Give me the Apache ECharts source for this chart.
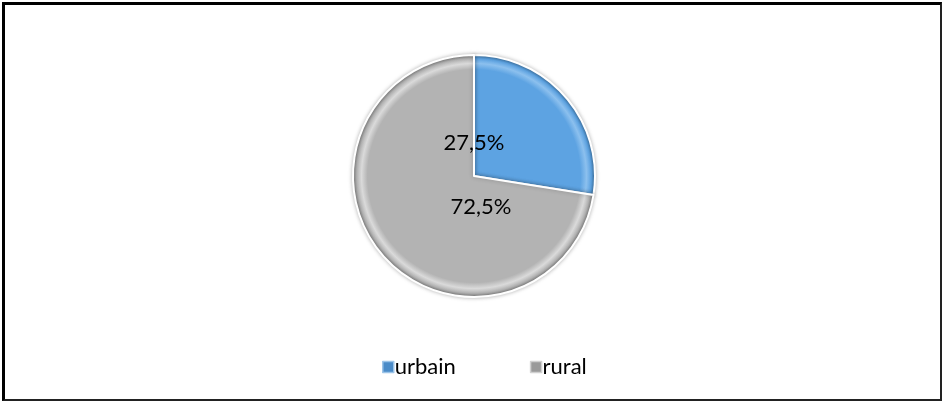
<!DOCTYPE html>
<html>
<head>
<meta charset="utf-8">
<script src="https://cdn.jsdelivr.net/npm/echarts@6/dist/echarts.min.js"></script>
<style>
  html, body { margin: 0; padding: 0; background: #fff; }
  #frame {
    position: absolute; left: 2px; top: 2px; width: 935px; height: 394px;
    border-left: 3px solid #000; border-top: 3px solid #000;
    border-right: 2px solid #222; border-bottom: 2px solid #222;
  }
  #chart { position: absolute; left: 0; top: 0; width: 943px; height: 403px; }
</style>
</head>
<body>
<div id="frame"></div>
<div id="chart"></div>
<script>
// donnees du graphique
var categories = ['urbain', 'rural'];
var values = [27.5, 72.5];
var labels = ['27,5%', '72,5%'];

var chart = echarts.init(document.getElementById('chart'));

// effet "biseau" facon Excel : degrade radial sur tout le disque
function bevel(base, light, dark) {
    return new echarts.graphic.RadialGradient(474, 176, 121, [
        { offset: 0, color: base },
        { offset: 0.88, color: base },
        { offset: 0.93, color: light },
        { offset: 0.97, color: base },
        { offset: 1, color: dark }
    ], true);
}
var colors = [
    bevel('#5DA3E2', '#8CC0EE', '#3A6F9E'),
    bevel('#B3B3B3', '#DADADA', '#7A7A7A')
];
// petits carres de legende
var legendColors = [
    { color: '#4A8BC8', border: '#9CC4E8' },
    { color: '#9A9A9A', border: '#D0D0D0' }
];
var offsets = [[0, -33], [7, 31]];

var data = categories.map(function (c, i) {
    return {
        name: c,
        value: values[i],
        itemStyle: { color: colors[i] },
        label: { offset: offsets[i], formatter: labels[i] }
    };
});

chart.setOption({
    animation: false,
    legend: {
        data: categories.map(function (c, i) {
            return {
                name: c,
                itemStyle: { color: legendColors[i].color, borderColor: legendColors[i].border, borderWidth: 1.5 }
            };
        }),
        bottom: 20,
        left: 377,
        itemWidth: 11,
        itemHeight: 11,
        itemGap: 74,
        icon: 'rect',
        textStyle: { fontFamily: 'Lato', fontSize: 22, color: '#000', padding: [0, 0, 0, -4] }
    },
    series: [{
        type: 'pie',
        center: [474, 176],
        radius: 121,
        startAngle: 90,
        clockwise: true,
        data: data,
        itemStyle: {
            borderColor: '#fff',
            borderWidth: 2,
            shadowColor: 'rgba(0,0,0,0.25)',
            shadowBlur: 4
        },
        label: {
            show: true,
            position: 'center',
            fontFamily: 'Lato',
            fontSize: 22,
            color: '#000'
        },
        labelLine: { show: false },
        emphasis: { disabled: true }
    }]
});
</script>
</body>
</html>
